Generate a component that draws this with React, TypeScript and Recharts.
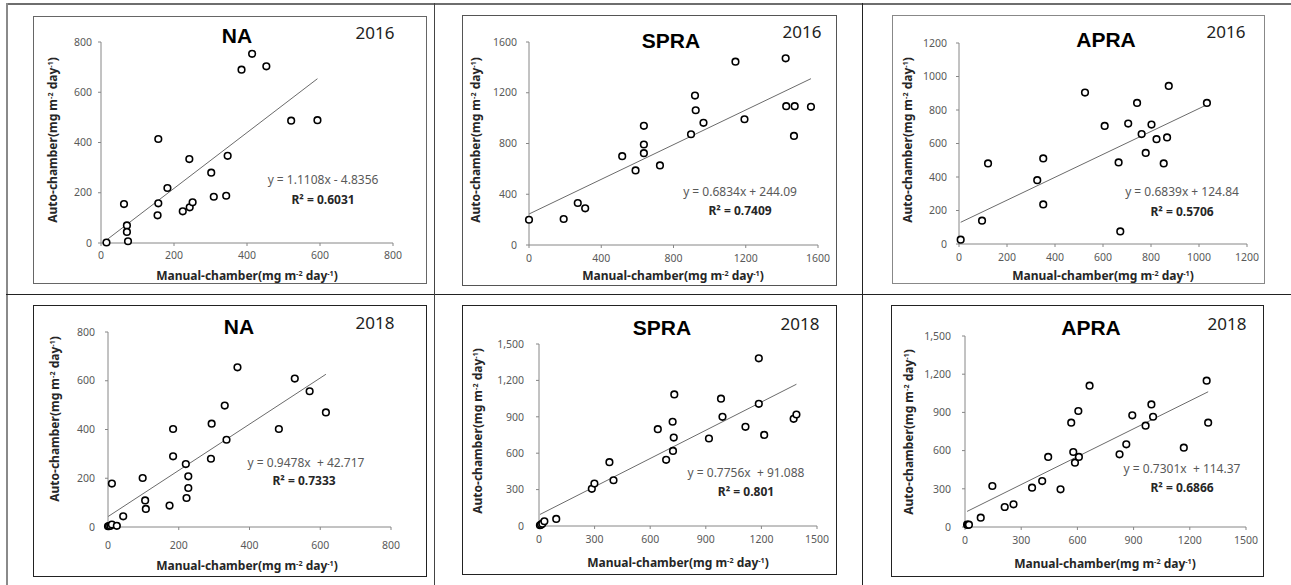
import React from 'react';
import { ComposedChart, Scatter, XAxis, YAxis, ReferenceLine } from 'recharts';

// values (x = manual chamber, y = auto chamber)
const na16X = [15, 63, 71, 71, 74, 157, 155, 157, 182, 224, 243, 251, 242, 302, 309, 343, 347, 385, 414, 453, 521, 593];
const na16Y = [2, 155, 70, 44, 7, 414, 110, 158, 219, 126, 142, 162, 334, 280, 184, 188, 347, 690, 753, 703, 487, 489];

const spra16X = [0, 192, 270, 311, 516, 590, 636, 636, 636, 725, 897, 919, 923, 966, 1143, 1193, 1421, 1424, 1471, 1467, 1561];
const spra16Y = [199, 205, 331, 289, 700, 588, 939, 792, 724, 627, 873, 1178, 1062, 963, 1445, 991, 1471, 1094, 1094, 860, 1089];

const apra16X = [7, 96, 121, 326, 351, 351, 525, 607, 665, 672, 705, 742, 761, 778, 802, 823, 853, 867, 874, 1033];
const apra16Y = [26, 139, 481, 381, 511, 236, 904, 705, 487, 75, 719, 842, 656, 544, 713, 626, 481, 636, 944, 842];

const na18X = [0, 3, 7, 11, 25, 11, 43, 98, 105, 107, 174, 184, 184, 220, 222, 227, 227, 291, 293, 330, 335, 366, 483, 528, 570, 616];
const na18Y = [3, 4, 5, 10, 5, 178, 44, 201, 109, 74, 88, 290, 402, 258, 119, 208, 160, 280, 424, 498, 358, 655, 402, 609, 557, 470];

const spra18X = [5, 11, 18, 29, 93, 285, 299, 380, 402, 641, 686, 723, 727, 721, 730, 917, 982, 990, 1114, 1186, 1186, 1215, 1374, 1389];
const spra18Y = [6, 11, 19, 39, 58, 306, 350, 526, 377, 798, 545, 619, 729, 859, 1084, 721, 1049, 900, 817, 1007, 1382, 751, 883, 919];

const apra18X = [11, 16, 21, 84, 146, 212, 259, 358, 412, 444, 510, 567, 578, 587, 608, 605, 665, 825, 861, 893, 964, 995, 1004, 1168, 1290, 1298];
const apra18Y = [18, 16, 18, 73, 322, 157, 178, 309, 361, 550, 296, 819, 589, 505, 550, 911, 1110, 571, 649, 877, 796, 963, 866, 623, 1149, 819];

// regression coefficients printed on each panel
const slopes = [1.1108, 0.6834, 0.6839, 0.9478, 0.7756, 0.7301];
const intercepts = [-4.8356, 244.09, 124.84, 42.717, 91.088, 114.37];
const equations = [
  'y = 1.1108x - 4.8356',
  'y = 0.6834x + 244.09',
  'y = 0.6839x + 124.84',
  'y = 0.9478x  + 42.717',
  'y = 0.7756x  + 91.088',
  'y = 0.7301x  + 114.37',
];
const r2Values = ['0.6031', '0.7409', '0.5706', '0.7333', '0.801', '0.6866'];
const titles = ['NA', 'SPRA', 'APRA', 'NA', 'SPRA', 'APRA'];
const years = ['2016', '2016', '2016', '2018', '2018', '2018'];

const ticks800 = [0, 200, 400, 600, 800];
const ticks1600 = [0, 400, 800, 1200, 1600];
const ticks1200 = [0, 200, 400, 600, 800, 1000, 1200];
const ticks1500 = [0, 300, 600, 900, 1200, 1500];

const FONT = '"Noto Sans", "Open Sans", sans-serif';

type Box = { l: number; t: number; r: number; b: number };

interface PanelSpec {
  xs: number[];
  ys: number[];
  xTicks: number[];
  yTicks: number[];
  comma: boolean;
  box: Box;
  plot: Box;
  border: string;
  xGap: number;
  yGap: number;
  titleAt: [number, number];
  yearAt: [number, number];
  eqAt: [number, number];
  r2At: [number, number];
  yTitleAt: [number, number];
  xTitleAt: [number, number];
}

const panels: PanelSpec[] = [
  {
    xs: na16X, ys: na16Y, xTicks: ticks800, yTicks: ticks800, comma: false,
    box: { l: 33, t: 16, r: 427, b: 284 }, plot: { l: 101, t: 42, r: 393, b: 243 }, border: '#666',
    xGap: 15, yGap: 9,
    titleAt: [237, 35], yearAt: [375, 32], eqAt: [323, 180], r2At: [323, 200], yTitleAt: [53, 140], xTitleAt: [247, 276],
  },
  {
    xs: spra16X, ys: spra16Y, xTicks: ticks1600, yTicks: ticks1600, comma: false,
    box: { l: 462, t: 15, r: 837, b: 286 }, plot: { l: 529, t: 42, r: 818, b: 245 }, border: '#555',
    xGap: 16, yGap: 12,
    titleAt: [671, 40], yearAt: [802, 31], eqAt: [740, 192], r2At: [740, 211], yTitleAt: [476, 140], xTitleAt: [673, 276],
  },
  {
    xs: apra16X, ys: apra16Y, xTicks: ticks1200, yTicks: ticks1200, comma: false,
    box: { l: 892, t: 15, r: 1265, b: 284 }, plot: { l: 959, t: 43, r: 1247, b: 244 }, border: '#888',
    xGap: 16, yGap: 12,
    titleAt: [1106, 39], yearAt: [1226, 31], eqAt: [1182, 192], r2At: [1182, 212], yTitleAt: [908, 140], xTitleAt: [1103, 276],
  },
  {
    xs: na18X, ys: na18Y, xTicks: ticks800, yTicks: ticks800, comma: false,
    box: { l: 33, t: 305, r: 427, b: 577 }, plot: { l: 108, t: 332, r: 391, b: 527 }, border: '#222',
    xGap: 21, yGap: 13,
    titleAt: [239, 326], yearAt: [375, 322], eqAt: [306, 463], r2At: [304, 481], yTitleAt: [55, 419], xTitleAt: [247, 566],
  },
  {
    xs: spra18X, ys: spra18Y, xTicks: ticks1500, yTicks: ticks1500, comma: true,
    box: { l: 462, t: 305, r: 837, b: 575 }, plot: { l: 539, t: 344, r: 817, b: 526 }, border: '#222',
    xGap: 16, yGap: 15,
    titleAt: [662, 327], yearAt: [800, 323], eqAt: [746, 473], r2At: [746, 492], yTitleAt: [478, 431], xTitleAt: [678, 563],
  },
  {
    xs: apra18X, ys: apra18Y, xTicks: ticks1500, yTicks: ticks1500, comma: true,
    box: { l: 891, t: 305, r: 1264, b: 577 }, plot: { l: 965, t: 336, r: 1246, b: 527 }, border: '#222',
    xGap: 16, yGap: 14,
    titleAt: [1091, 327], yearAt: [1227, 323], eqAt: [1182, 469], r2At: [1182, 488], yTitleAt: [909, 432], xTitleAt: [1105, 564],
  },
];

const YW = 30;
const XH = 20;

const Circle = (p: any) => (
  <circle cx={p.cx} cy={p.cy} r={3.3} fill="#fff" stroke="#000" strokeWidth={1.6} />
);

const Unit = () => (
  <>
    (mg m<span style={{ fontSize: '0.6em', verticalAlign: '0.6em' }}>-2</span> day
    <span style={{ fontSize: '0.6em', verticalAlign: '0.6em' }}>-1</span>)
  </>
);

function abs(x: number, y: number, extra: React.CSSProperties = {}): React.CSSProperties {
  return {
    position: 'absolute',
    left: x,
    top: y,
    transform: 'translate(-50%, -50%)',
    whiteSpace: 'nowrap',
    lineHeight: 1,
    fontFamily: FONT,
    ...extra,
  };
}

function Panel({ spec, idx }: { spec: PanelSpec; idx: number }) {
  const { box, plot } = spec;
  const innerL = box.l + 1;
  const innerT = box.t + 1;
  const w = box.r - box.l - 2;
  const h = box.b - box.t - 2;
  const margin = {
    left: plot.l - innerL - YW,
    top: plot.t - innerT,
    right: innerL + w - plot.r,
    bottom: innerT + h - plot.b - XH,
  };
  const data = spec.xs.map((x, i) => ({ x, y: spec.ys[i] }));
  const x0 = Math.min(...spec.xs);
  const x1 = Math.max(...spec.xs);
  const a = slopes[idx];
  const b = intercepts[idx];
  // only the y axis of the 2018 SPRA/APRA panels uses thousands separators
  const yFmt = (v: number) => (spec.comma ? v.toLocaleString('en-US') : String(v));
  const xMax = spec.xTicks[spec.xTicks.length - 1];
  const yMax = spec.yTicks[spec.yTicks.length - 1];

  return (
    <>
      <div
        style={{
          position: 'absolute',
          left: box.l,
          top: box.t,
          width: box.r - box.l,
          height: box.b - box.t,
          boxSizing: 'border-box',
          border: `1px solid ${spec.border}`,
          background: '#fff',
        }}
      >
        <ComposedChart width={w} height={h} margin={margin}>
          <XAxis
            type="number"
            dataKey="x"
            domain={[0, xMax]}
            ticks={spec.xTicks}
            interval={0}
            height={XH}
            tickSize={3}
            tickMargin={spec.xGap - 9}
            axisLine={{ stroke: '#868686' }}
            tickLine={{ stroke: '#868686' }}
            tick={{ fill: '#595959', fontSize: 10.5, fontFamily: FONT }}
          />
          <YAxis
            type="number"
            dataKey="y"
            domain={[0, yMax]}
            ticks={spec.yTicks}
            interval={0}
            width={YW}
            tickSize={3}
            tickMargin={spec.yGap - 3}
            tickFormatter={yFmt}
            axisLine={{ stroke: '#868686' }}
            tickLine={{ stroke: '#868686' }}
            tick={{ fill: '#595959', fontSize: 10.5, fontFamily: FONT }}
          />
          <ReferenceLine
            segment={[
              { x: x0, y: a * x0 + b },
              { x: x1, y: a * x1 + b },
            ]}
            stroke="#6b6b6b"
            strokeWidth={1}
            ifOverflow="visible"
          />
          <Scatter data={data} dataKey="y" shape={Circle} isAnimationActive={false} />
        </ComposedChart>
      </div>
      <div style={abs(spec.titleAt[0], spec.titleAt[1], { fontFamily: '"Liberation Sans", Arial, sans-serif', fontWeight: 700, fontSize: 21, color: '#000' })}>
        {titles[idx]}
      </div>
      <div style={abs(spec.yearAt[0], spec.yearAt[1], { fontSize: 17, color: '#222' })}>{years[idx]}</div>
      <div style={abs(spec.eqAt[0], spec.eqAt[1], { fontSize: 12, color: '#595959', whiteSpace: 'pre' })}>{equations[idx]}</div>
      <div style={abs(spec.r2At[0], spec.r2At[1], { fontSize: 12, color: '#262626', fontWeight: 700 })}>
        R² = {r2Values[idx]}
      </div>
      <div
        style={abs(spec.yTitleAt[0], spec.yTitleAt[1], {
          fontSize: 12,
          fontWeight: 700,
          color: '#262626',
          transform: 'translate(-50%, -50%) rotate(-90deg)',
        })}
      >
        Auto-chamber<Unit />
      </div>
      <div style={abs(spec.xTitleAt[0], spec.xTitleAt[1], { fontSize: 12, fontWeight: 700, color: '#262626' })}>
        Manual-chamber<Unit />
      </div>
    </>
  );
}

export default function App() {
  const line = (s: React.CSSProperties): React.CSSProperties => ({ position: 'absolute', ...s });
  return (
    <div style={{ position: 'absolute', left: 0, top: 0, width: 1291, height: 585, background: '#fff', overflow: 'hidden' }}>
      {/* table grid around the panels */}
      <div style={line({ left: 6, top: 3, width: 1285, height: 2, background: '#6e6e6e' })} />
      <div style={line({ left: 6, top: 3, width: 2, height: 582, background: '#8a8a8a' })} />
      <div style={line({ left: 6, top: 294, width: 1285, height: 1, background: '#222' })} />
      <div style={line({ left: 434, top: 3, width: 1, height: 582, background: '#444' })} />
      <div style={line({ left: 862, top: 3, width: 1, height: 582, background: '#222' })} />
      {panels.map((p, i) => (
        <Panel key={i} spec={p} idx={i} />
      ))}
    </div>
  );
}
